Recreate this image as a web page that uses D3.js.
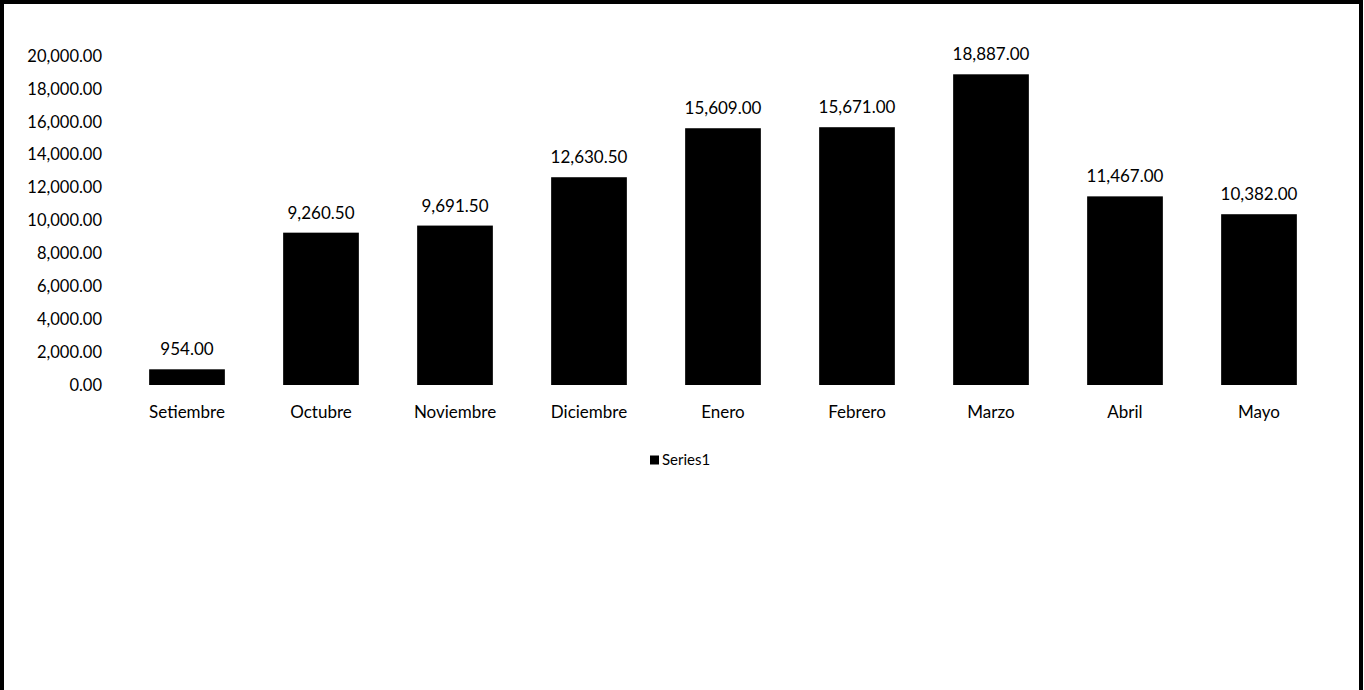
<!DOCTYPE html>
<html>
<head>
<meta charset="utf-8">
<script src="https://cdn.jsdelivr.net/npm/d3@7"></script>
<style>
  body { margin: 0; background: #fff; }
  text { font-family: Lato, "Open Sans", sans-serif; fill: #000; }
</style>
</head>
<body>
<div id="vis"></div>
<script>
const months = ["Setiembre", "Octubre", "Noviembre", "Diciembre", "Enero", "Febrero", "Marzo", "Abril", "Mayo"];
const values = [954, 9260.5, 9691.5, 12630.5, 15609, 15671, 18887, 11467, 10382];
const yTicks = [0, 2000, 4000, 6000, 8000, 10000, 12000, 14000, 16000, 18000, 20000];
const seriesName = "Series1";

const width = 1364;
const height = 690;
const fmt = d3.format(",.2f");

const svg = d3.select("#vis")
  .append("svg")
  .attr("width", width)
  .attr("height", height);

// scanned page border
svg.append("rect")
  .attr("x", 2).attr("y", 2)
  .attr("width", width - 5).attr("height", height + 4)
  .attr("fill", "none")
  .attr("stroke", "#000")
  .attr("stroke-width", 4);

const x = d3.scaleBand()
  .domain(months)
  .range([120, 1326])
  .paddingInner(0.435)
  .paddingOuter(0.2175);

const y = d3.scaleLinear()
  .domain([0, 20000])
  .range([385, 56]);

// y axis labels only, no line
const yAxis = svg.append("g")
  .attr("transform", "translate(110,0)")
  .call(d3.axisLeft(y).tickValues(yTicks).tickFormat(fmt).tickSize(0).tickPadding(8));
yAxis.select(".domain").remove();
yAxis.selectAll("text")
  .attr("font-size", 16.5)
  .style("font-family", "Lato, sans-serif");

svg.append("g")
  .selectAll("rect")
  .data(values)
  .join("rect")
    .attr("x", (d, i) => x(months[i]))
    .attr("y", d => y(d))
    .attr("width", x.bandwidth())
    .attr("height", d => y(0) - y(d))
    .attr("fill", "#000");

// value labels
svg.append("g")
  .selectAll("text")
  .data(values)
  .join("text")
    .attr("x", (d, i) => x(months[i]) + x.bandwidth() / 2)
    .attr("y", d => y(d) - 14)
    .attr("text-anchor", "middle")
    .attr("font-size", 17)
    .text(d => fmt(d));

// category labels
const xAxis = svg.append("g")
  .attr("transform", `translate(0,${y(0)})`)
  .call(d3.axisBottom(x).tickSize(0).tickPadding(21));
xAxis.select(".domain").remove();
xAxis.selectAll("text")
  .attr("font-size", 17)
  .style("font-family", "Lato, sans-serif");

// legend
const legend = svg.append("g").attr("transform", "translate(650,460)");
legend.append("rect")
  .attr("x", 0).attr("y", -4.5)
  .attr("width", 9).attr("height", 9)
  .attr("fill", "#000");
legend.append("text")
  .attr("x", 12)
  .attr("dy", "0.35em")
  .attr("font-size", 15)
  .text(seriesName);
</script>
</body>
</html>
